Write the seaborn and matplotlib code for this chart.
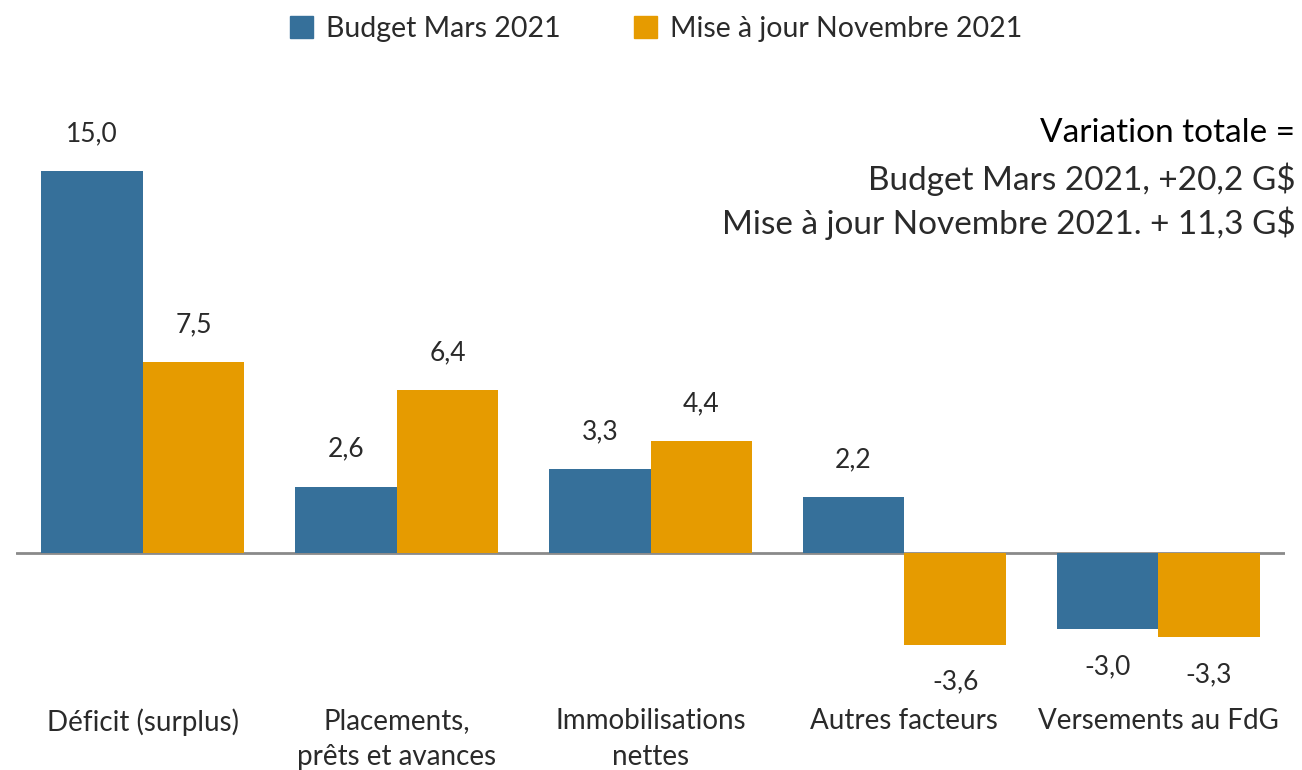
import pandas as pd
import numpy as np
import seaborn as sns
import matplotlib.pyplot as plt

categories = ['Déficit (surplus)', 'Placements,\nprêts et avances', 'Immobilisations\nnettes',
              'Autres facteurs', 'Versements au FdG']
budget_mars = [15.0, 2.6, 3.3, 2.2, -3.0]
maj_novembre = [7.5, 6.4, 4.4, -3.6, -3.3]
series = ['Budget Mars 2021', 'Mise à jour Novembre 2021']
colors = ['#36709A', '#E69B00']

data = pd.DataFrame({
    'cat': categories * 2,
    'val': budget_mars + maj_novembre,
    'serie': [series[0]] * 5 + [series[1]] * 5,
})

sns.set_style('white')
plt.rcParams['font.family'] = ['Lato', 'DejaVu Sans']
txt = '#2a2a2a'

fig = plt.figure(figsize=(13.02, 7.7), dpi=100)
ax = fig.add_axes([0.0123, 0.10, 0.9747, 0.81])
sns.barplot(data=data, x='cat', y='val', hue='serie', palette=colors,
            width=0.8, saturation=1, linewidth=0, ax=ax, legend=False)

ax.set_xlim(-0.5, 4.5)
ax.set_ylim(-5.5, 19)
ax.axhline(0, color='#8a8a8a', lw=2, zorder=0)
sns.despine(ax=ax, left=True, bottom=True)
ax.set_yticks([])
ax.set_xlabel('')
ax.set_ylabel('')
ax.tick_params(axis='x', length=0, pad=11, labelsize=20, colors=txt)
for lbl in ax.get_xticklabels():
    lbl.set_linespacing(1.45)

for cont, vals in zip(ax.containers, [budget_mars, maj_novembre]):
    ax.bar_label(cont, labels=[f'{v:.1f}'.replace('.', ',') for v in vals],
                 padding=18, fontsize=19, color=txt)

handles = [plt.Rectangle((0, 0), 1, 1, color=c) for c in colors]
fig.legend(handles, series, loc='upper center', bbox_to_anchor=(0.504, 1.013), ncol=2,
           frameon=False, fontsize=20.5, handlelength=0.8, handleheight=0.8,
           columnspacing=2.6, handletextpad=0.45, labelcolor=txt)

fig.text(0.995, 0.827, 'Variation totale =', ha='right', va='center', fontsize=24, color='black')
fig.text(0.995, 0.767, 'Budget Mars 2021, +20,2 G$', ha='right', va='center', fontsize=24, color=txt)
fig.text(0.995, 0.710, 'Mise à jour Novembre 2021. + 11,3 G$', ha='right', va='center', fontsize=24, color=txt)

fig.savefig('out.png', dpi=100)
